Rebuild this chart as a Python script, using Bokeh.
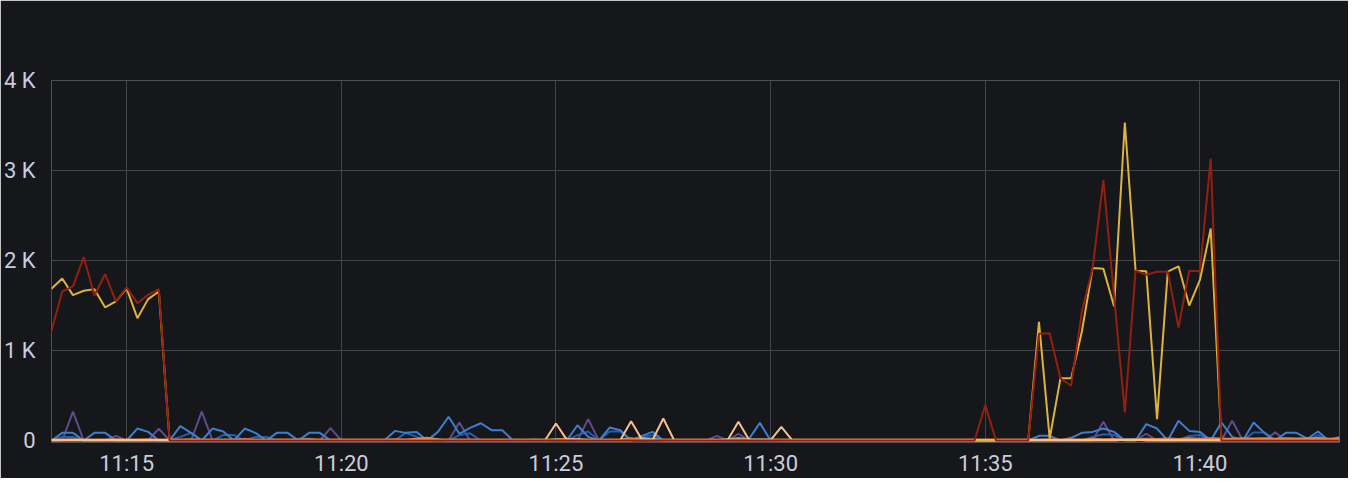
import pandas as pd
from bokeh.plotting import figure
from bokeh.models import FixedTicker, DatetimeTickFormatter, Range1d, Label
from bokeh.embed import file_html
from bokeh.resources import INLINE

# 15 s samples from 11:13:15 to 11:43:15 (121 points)
times = pd.date_range("2024-01-01 11:13:15", periods=121, freq="15s")

red = [1218, 1656, 1712, 2039, 1612, 1850, 1545, 1701, 1526, 1619,
       1682, 0, 0, 0, 0, 0, 0, 0, 0, 0,
       0, 0, 0, 0, 0, 0, 0, 0, 0, 0,
       0, 0, 0, 0, 0, 0, 0, 0, 0, 0,
       0, 0, 0, 0, 0, 0, 0, 0, 0, 0,
       0, 0, 0, 0, 0, 0, 0, 0, 0, 0,
       0, 0, 0, 0, 0, 0, 0, 0, 0, 0,
       0, 0, 0, 0, 0, 0, 0, 0, 0, 0,
       0, 0, 0, 0, 0, 0, 0, 393, 0, 0,
       0, 0, 1185, 1192, 691, 609, 1434, 1916, 2893, 1600,
       312, 1887, 1842, 1876, 1876, 1255, 1887, 1880, 3134, 0,
       0, 0, 0, 0, 0, 0, 0, 0, 0, 0,
       0]

yellow = [1686, 1801, 1615, 1664, 1682, 1478, 1545, 1690, 1359, 1571,
          1656, 0, 0, 0, 0, 0, 0, 0, 0, 0,
          0, 0, 0, 0, 0, 0, 0, 0, 0, 0,
          0, 0, 0, 0, 0, 0, 0, 0, 0, 0,
          0, 0, 0, 0, 0, 0, 0, 0, 0, 0,
          0, 0, 0, 0, 0, 0, 0, 0, 0, 0,
          0, 0, 0, 0, 0, 0, 0, 0, 0, 0,
          0, 0, 0, 0, 0, 0, 0, 0, 0, 0,
          0, 0, 0, 0, 0, 0, 0, 0, 0, 0,
          0, 0, 1318, 22, 691, 691, 1211, 1916, 1909, 1490,
          3532, 1887, 1880, 237, 1876, 1935, 1500, 1786, 2355, 0,
          0, 0, 0, 0, 0, 0, 0, 0, 0, 0,
          0]

blue = [0, 85, 85, 0, 85, 85, 0, 0, 133, 96,
        0, 0, 160, 85, 0, 133, 100, 0, 133, 85,
        0, 85, 85, 0, 85, 85, 0, 0, 0, 0,
        0, 0, 107, 85, 96, 0, 96, 264, 75, 140,
        192, 115, 115, 0, 0, 10, 0, 10, 0, 170,
        40, 0, 144, 115, 0, 52, 96, 0, 0, 0,
        0, 0, 0, 0, 0, 20, 196, 0, 0, 0,
        0, 0, 0, 0, 0, 0, 0, 0, 0, 0,
        0, 0, 0, 0, 0, 0, 0, 0, 0, 0,
        0, 0, 52, 52, 0, 30, 85, 96, 133, 96,
        0, 0, 182, 133, 0, 219, 107, 96, 0, 200,
        40, 0, 200, 85, 0, 85, 85, 20, 100, 0,
        40]

darkblue = [0, 40, 40, 0, 0, 0, 0, 0, 0, 0,
            0, 0, 40, 85, 0, 0, 60, 60, 0, 40,
            40, 0, 0, 20, 20, 0, 0, 0, 0, 0,
            0, 0, 0, 85, 40, 0, 0, 0, 60, 80,
            0, 0, 0, 0, 0, 0, 0, 0, 0, 60,
            100, 0, 100, 100, 0, 40, 60, 0, 0, 0,
            0, 0, 0, 0, 0, 0, 0, 0, 0, 0,
            0, 0, 0, 0, 0, 0, 0, 0, 0, 0,
            0, 0, 0, 0, 0, 0, 0, 0, 0, 0,
            0, 0, 0, 0, 0, 0, 0, 40, 70, 60,
            0, 0, 0, 0, 0, 0, 50, 60, 0, 0,
            0, 0, 90, 90, 0, 0, 0, 0, 60, 0,
            0]

purple = [0, 0, 320, 0, 0, 0, 52, 0, 0, 0,
          133, 0, 0, 0, 320, 0, 0, 0, 20, 0,
          0, 0, 0, 0, 0, 0, 138, 0, 0, 0,
          0, 0, 0, 0, 0, 0, 0, 0, 200, 0,
          0, 0, 0, 0, 0, 0, 0, 0, 0, 0,
          238, 0, 0, 0, 0, 30, 0, 0, 0, 0,
          0, 0, 52, 0, 75, 0, 0, 0, 0, 0,
          0, 0, 0, 0, 0, 0, 0, 0, 0, 0,
          0, 0, 0, 0, 0, 0, 0, 0, 0, 0,
          0, 0, 0, 0, 0, 0, 0, 0, 208, 0,
          0, 0, 75, 0, 0, 0, 0, 0, 0, 0,
          219, 0, 0, 0, 90, 0, 0, 20, 0, 0,
          0]

peach = [5, 5, 5, 5, 5, 5, 5, 5, 5, 5,
         5, 5, 5, 5, 5, 5, 5, 5, 5, 5,
         5, 5, 5, 5, 5, 5, 5, 5, 5, 5,
         5, 5, 5, 5, 5, 5, 5, 5, 5, 5,
         5, 5, 5, 5, 5, 5, 5, 189, 10, 15,
         5, 5, 5, 5, 215, 10, 5, 245, 5, 5,
         5, 5, 5, 5, 208, 5, 5, 5, 152, 5,
         5, 5, 5, 5, 5, 5, 5, 5, 5, 5,
         5, 5, 5, 5, 5, 5, 5, 5, 5, 5,
         5, 5, 5, 5, 5, 5, 5, 5, 5, 5,
         5, 5, 5, 5, 5, 5, 5, 5, 5, 5,
         5, 5, 5, 5, 5, 5, 5, 5, 5, 5,
         5]

orange = [12, 10, 14, 10, 12, 10, 15, 10, 12, 14,
          10, 12, 10, 14, 12, 10, 12, 10, 14, 10,
          12, 10, 12, 10, 14, 12, 10, 12, 10, 12,
          10, 12, 14, 10, 20, 30, 14, 10, 12, 10,
          12, 10, 12, 10, 12, 10, 12, 14, 20, 10,
          12, 10, 12, 14, 25, 12, 10, 12, 10, 12,
          10, 12, 10, 12, 14, 10, 12, 10, 12, 10,
          10, 10, 10, 10, 10, 10, 10, 10, 10, 10,
          10, 10, 10, 10, 10, 10, 10, 10, 10, 10,
          10, 10, 12, 14, 12, 15, 12, 20, 14, 16,
          12, 14, 20, 16, 22, 18, 24, 20, 26, 22,
          20, 24, 22, 26, 20, 24, 22, 26, 28, 20,
          24]

cyan = [0, 0, 0, 0, 0, 0, 0, 0, 0, 0,
        0, 0, 0, 0, 0, 0, 0, 0, 0, 0,
        0, 0, 0, 0, 0, 0, 0, 0, 0, 0,
        0, 0, 0, 0, 0, 0, 10, 0, 0, 0,
        0, 0, 0, 0, 0, 0, 0, 15, 20, 0,
        0, 0, 0, 0, 0, 25, 20, 0, 0, 0,
        0, 0, 0, 15, 25, 15, 10, 10, 0, 0,
        0, 0, 0, 0, 0, 0, 0, 0, 0, 0,
        0, 0, 0, 0, 0, 0, 0, 0, 0, 0,
        0, 0, 0, 0, 0, 0, 0, 0, 0, 0,
        10, 15, 0, 0, 0, 0, 0, 0, 0, 0,
        0, 0, 0, 0, 0, 0, 0, 0, 0, 0,
        0]

series = [
    (purple, "#5e4c8e"),
    (darkblue, "#1f5fb0"),
    (blue, "#3b7fd4"),
    (cyan, "#76d3e6"),
    (orange, "#e8823c"),
    (peach, "#f6c08f"),
    (yellow, "#dcb33c"),
    (red, "#931f10"),
]

x_ticks = ["2024-01-01 11:15", "2024-01-01 11:20", "2024-01-01 11:25",
           "2024-01-01 11:30", "2024-01-01 11:35", "2024-01-01 11:40"]
y_ticks = [0, 1000, 2000, 3000, 4000]
y_labels = ["0", "1 K", "2 K", "3 K", "4 K"]
title_text = "Lag by Consumer Group"

BG = "#16171b"
GRID = "#434448"
TXT = "#ccccdc"

p = figure(width=1348, height=478, x_axis_type="datetime",
           output_backend="svg", toolbar_location=None,
           x_range=Range1d(times[0], times[-1]),
           y_range=Range1d(-22, 4000),
           min_border_left=46, min_border_right=9,
           min_border_top=80, min_border_bottom=36)

p.background_fill_color = BG
p.border_fill_color = BG
p.outline_line_color = None

for data, color in series:
    p.line(times, data, line_color=color, line_width=2)

# title placed in screen units relative to the frame (frame is 362 px tall)
title_label = Label(x=640, y=423, x_units="screen", y_units="screen",
                    text=title_text, text_align="center",
                    text_baseline="middle", text_font="Roboto",
                    text_font_size="27.5px", text_font_style="bold",
                    text_color="#d6d8df")
p.add_layout(title_label)

tick_ms = [pd.Timestamp(t).value // 10**6 for t in x_ticks]
p.xaxis.ticker = FixedTicker(ticks=tick_ms)
fmt = "%H:%M"
p.xaxis.formatter = DatetimeTickFormatter(minutes=fmt, hours=fmt, minsec=fmt,
                                          seconds=fmt, hourmin=fmt, days=fmt)
p.yaxis.ticker = FixedTicker(ticks=y_ticks)
p.yaxis.major_label_overrides = {v: s for v, s in zip(y_ticks, y_labels)}

for ax in (p.xaxis, p.yaxis):
    ax.axis_line_color = None
    ax.major_tick_line_color = None
    ax.minor_tick_line_color = None
    ax.major_label_text_color = TXT
    ax.major_label_text_font = "Roboto"
    ax.major_label_text_font_size = "22px"
p.xaxis.major_label_standoff = 2
p.yaxis.major_label_standoff = 10

p.xgrid.grid_line_color = GRID
p.ygrid.grid_line_color = GRID
p.xgrid.grid_line_width = 1
p.ygrid.grid_line_width = 1

open("out.html", "w").write(file_html(p, INLINE))
